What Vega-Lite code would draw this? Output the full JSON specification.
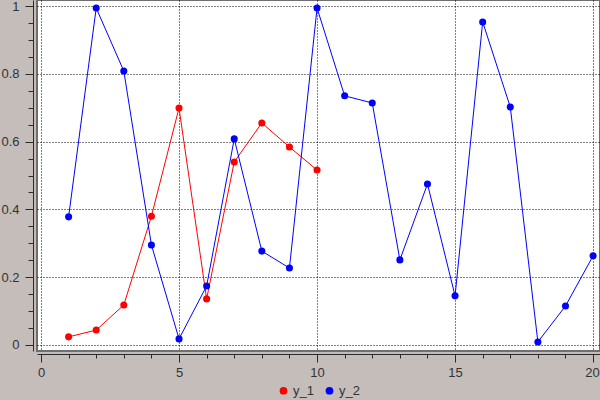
{
  "$schema": "https://vega.github.io/schema/vega-lite/v6.json",
  "width": 563,
  "height": 351,
  "autosize": {"type": "none"},
  "padding": {"left": 37, "top": 0, "right": 0, "bottom": 49},
  "background": "#c4bdba",
  "config": {
    "view": {"stroke": "#6f6f6f", "strokeWidth": 2, "fill": "#ffffff"},
    "font": "Liberation Sans",
    "axis": {
      "labelFont": "Liberation Sans",
      "labelFontSize": 13,
      "labelColor": "#333333",
      "domainColor": "#2a2a2a",
      "tickColor": "#2a2a2a",
      "gridColor": "#000000",
      "gridDash": [1, 2],
      "gridWidth": 1,
      "gridOpacity": 1,
      "title": null,
      "labelOverlap": false
    },
    "legend": {"labelFont": "Liberation Sans", "labelFontSize": 13, "labelColor": "#333333"}
  },
  "data": {
    "values": [
      {"x": 1, "y": 0.024, "series": "y_1"},
      {"x": 2, "y": 0.044, "series": "y_1"},
      {"x": 3, "y": 0.118, "series": "y_1"},
      {"x": 4, "y": 0.38, "series": "y_1"},
      {"x": 5, "y": 0.699, "series": "y_1"},
      {"x": 6, "y": 0.136, "series": "y_1"},
      {"x": 7, "y": 0.54, "series": "y_1"},
      {"x": 8, "y": 0.655, "series": "y_1"},
      {"x": 9, "y": 0.584, "series": "y_1"},
      {"x": 10, "y": 0.516, "series": "y_1"},
      {"x": 1, "y": 0.378, "series": "y_2"},
      {"x": 2, "y": 0.994, "series": "y_2"},
      {"x": 3, "y": 0.808, "series": "y_2"},
      {"x": 4, "y": 0.295, "series": "y_2"},
      {"x": 5, "y": 0.018, "series": "y_2"},
      {"x": 6, "y": 0.174, "series": "y_2"},
      {"x": 7, "y": 0.608, "series": "y_2"},
      {"x": 8, "y": 0.277, "series": "y_2"},
      {"x": 9, "y": 0.227, "series": "y_2"},
      {"x": 10, "y": 0.994, "series": "y_2"},
      {"x": 11, "y": 0.735, "series": "y_2"},
      {"x": 12, "y": 0.714, "series": "y_2"},
      {"x": 13, "y": 0.251, "series": "y_2"},
      {"x": 14, "y": 0.475, "series": "y_2"},
      {"x": 15, "y": 0.145, "series": "y_2"},
      {"x": 16, "y": 0.953, "series": "y_2"},
      {"x": 17, "y": 0.702, "series": "y_2"},
      {"x": 18, "y": 0.009, "series": "y_2"},
      {"x": 19, "y": 0.115, "series": "y_2"},
      {"x": 20, "y": 0.263, "series": "y_2"}
    ]
  },
  "encoding": {
    "x": {
      "field": "x", "type": "quantitative",
      "scale": {"domain": [-0.145, 20.25], "nice": false, "zero": false},
      "axis": {
        "values": [0,1,2,3,4,5,6,7,8,9,10,11,12,13,14,15,16,17,18,19,20],
        "offset": 3,
        "grid": true,
        "gridColor": {"condition": {"test": "datum.value % 5 === 0", "value": "#000000"}, "value": "transparent"},
        "tickSize": {"condition": {"test": "datum.value % 5 === 0", "value": 8}, "value": 4},
        "labelOffset": {"condition": {"test": "datum.value === 20", "value": -1}, "value": 0},
        "labelExpr": "datum.value % 5 === 0 ? format(datum.value, '~g') : ''",
        "labelPadding": 4,
        "labelFlush": false,
        "labelOverlap": false
      }
    },
    "y": {
      "field": "y", "type": "quantitative",
      "scale": {"domain": [-0.0177, 1.0177], "nice": false, "zero": false},
      "axis": {
        "values": [0,0.05,0.1,0.15,0.2,0.25,0.3,0.35,0.4,0.45,0.5,0.55,0.6,0.65,0.7,0.75,0.8,0.85,0.9,0.95,1],
        "offset": 4,
        "grid": true,
        "gridColor": {"condition": {"test": "abs(datum.value*5 - round(datum.value*5)) < 0.000001", "value": "#000000"}, "value": "transparent"},
        "tickSize": {"condition": {"test": "abs(datum.value*5 - round(datum.value*5)) < 0.000001", "value": 8}, "value": 5},
        "labelExpr": "abs(datum.value*5 - round(datum.value*5)) < 0.000001 ? format(datum.value, '~g') : ''",
        "labelPadding": 6,
        "labelFlush": false,
        "labelOverlap": false
      }
    },
    "color": {
      "field": "series", "type": "nominal",
      "scale": {"domain": ["y_1", "y_2"], "range": ["#ff0000", "#0000ff"]},
      "legend": {
        "orient": "none",
        "direction": "horizontal",
        "legendX": 240,
        "legendY": 384,
        "title": null,
        "symbolType": "circle",
        "symbolSize": 60,
        "symbolStrokeWidth": 0,
        "labelOffset": 3,
        "columnPadding": 9,
        "padding": 0
      }
    }
  },
  "layer": [
    {"mark": {"type": "line", "strokeWidth": 1}},
    {"mark": {"type": "point", "filled": true, "size": 50, "opacity": 1}}
  ]
}
